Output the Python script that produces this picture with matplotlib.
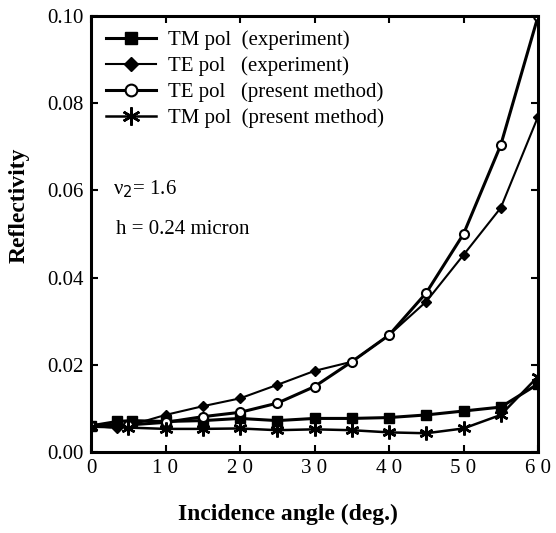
import matplotlib.pyplot as plt
import numpy as np

plt.rcParams["font.family"] = ["Liberation Serif", "DejaVu Serif"]

# data
tm_exp_x = [0, 3.5, 5.5, 10, 15, 20, 25, 30, 35, 40, 45, 50, 55, 60]
tm_exp_y = [0.0060, 0.0070, 0.0072, 0.0070, 0.0072, 0.0077, 0.0072, 0.0077, 0.0077, 0.0079, 0.0085, 0.0094, 0.0103, 0.0156]

te_exp_x = [0, 3.5, 5, 10, 15, 20, 25, 30, 35, 40, 45, 50, 55, 60]
te_exp_y = [0.0060, 0.0055, 0.0060, 0.0085, 0.0105, 0.0123, 0.0154, 0.0186, 0.0207, 0.0268, 0.0345, 0.0452, 0.0560, 0.0769]

te_pm_x = [0, 5, 10, 15, 20, 25, 30, 35, 40, 45, 50, 55, 60]
te_pm_y = [0.0060, 0.0062, 0.0068, 0.0081, 0.0091, 0.0112, 0.0150, 0.0207, 0.0268, 0.0365, 0.0500, 0.0704, 0.0999]

tm_pm_x = [0, 5, 10, 15, 20, 25, 30, 35, 40, 45, 50, 55, 60]
tm_pm_y = [0.0058, 0.0056, 0.0053, 0.0053, 0.0054, 0.0050, 0.0052, 0.0050, 0.0045, 0.0043, 0.0054, 0.0085, 0.0173]

x_ticks = [0, 10, 20, 30, 40, 50, 60]
x_tick_labels = ["0", "1 0", "2 0", "3 0", "4 0", "5 0", "6 0"]
y_ticks = [0.00, 0.02, 0.04, 0.06, 0.08, 0.10]
y_tick_labels = ["0.00", "0.02", "0.04", "0.06", "0.08", "0.10"]

fig = plt.figure(figsize=(5.56, 5.33), dpi=100)
ax = fig.add_axes([91 / 556, 1 - 452 / 533, (538 - 91) / 556, (452 - 16) / 533])

ax.plot(tm_exp_x, tm_exp_y, color="black", lw=2.2, marker="s", ms=7, label="TM pol  (experiment)")
ax.plot(te_exp_x, te_exp_y, color="black", lw=1.5, marker="D", ms=5.5, label="TE pol   (experiment)")
ax.plot(te_pm_x, te_pm_y, color="black", lw=2.2, marker="o", ms=6.5, mfc="white", mew=1.5,
        label="TE pol   (present method)")
ax.plot(tm_pm_x, tm_pm_y, color="black", lw=1.8, marker=(6, 2, 0), ms=10, mew=1.8,
        label="TM pol  (present method)")

ax.set_xlim(0, 60)
ax.set_ylim(0, 0.10)
ax.set_xticks(x_ticks)
ax.set_xticklabels(x_tick_labels, fontsize=15)
ax.set_yticks(y_ticks)
ax.set_yticklabels(y_tick_labels, fontsize=15)
ax.tick_params(direction="in", top=True, right=True, length=5, width=1.5, pad=5)
for s in ax.spines.values():
    s.set_linewidth(2.2)

# axis titles placed on the figure, where the reference has them
fig.text(0.518, 0.034, "Incidence angle (deg.)", fontsize=17, fontweight="bold",
         ha="center", va="center")
fig.text(0.034, 0.615, "Reflectivity", fontsize=17, fontweight="bold",
         ha="center", va="center", rotation=90)

leg = ax.legend(loc="upper left", frameon=False, fontsize=15, handlelength=2.4,
                handletextpad=0.6, markerscale=1.3, borderaxespad=0.3,
                labelspacing=0.3, bbox_to_anchor=(0.0, 1.0))

ax.text(0.05, 0.59, "ν$_2$= 1.6", transform=ax.transAxes, fontsize=15)
ax.text(0.055, 0.50, "h = 0.24 micron", transform=ax.transAxes, fontsize=15)

plt.savefig("out.png", dpi=100)
